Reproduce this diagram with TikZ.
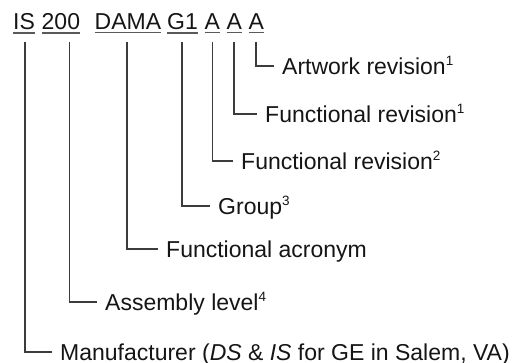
\documentclass[tikz,border=0pt]{standalone}
\usepackage{fontspec}
\setmainfont{Liberation Sans}
\definecolor{linegray}{HTML}{3C3C3C}
\definecolor{ulgray}{HTML}{5A5A5A}
\definecolor{txt}{HTML}{151515}
\newcommand\supnum[1]{\raisebox{0.36em}{\fontsize{13.5}{14}\selectfont #1}}
\tikzset{
  code/.style={anchor=base west, inner sep=0pt, font=\fontsize{23}{26}\selectfont, text=txt},
  lbl/.style={anchor=west, inner xsep=8pt, inner ysep=0pt, text height=16pt, text depth=0pt,
    font=\fontsize{23}{26}\selectfont, text=txt},
  uline/.style={draw=ulgray, line width=1.1pt},
  conn/.style={draw=linegray, line width=1.5pt}
}
\begin{document}
\begin{tikzpicture}[x=1pt,y=-1pt]
\useasboundingbox (0,0) rectangle (524,362);
% code words
\node[code] (wIS)  at (13,29) {IS};
\node[code] (w200) at (41.5,29) {200};
\node[code] (wDAMA) at (94.5,29) {DAMA};
\node[code] (wG1) at (167,29) {G1};
\node[code] (wA1) at (204.5,29) {A};
\node[code] (wA2) at (226.5,29) {A};
\node[code] (wA3) at (248.5,29) {A};
\foreach \w in {wIS,w200,wDAMA,wG1,wA1,wA2,wA3}
  \draw[uline] ([yshift=-3.6pt]\w.south west) -- ([yshift=-3.6pt]\w.south east);
% connector tops
\coordinate (tIS) at (25,42);
\coordinate (t200) at (69.5,42);
\coordinate (tDAMA) at (127,42);
\coordinate (tG1) at (182,42);
\coordinate (tA1) at (212.5,42);
\coordinate (tA2) at (234,42);
\coordinate (tA3) at (256,42);
% labels
\node[lbl] (art) at (274,66) {Artwork revision\supnum{1}};
\node[lbl] (fr1) at (257,114) {Functional revision\supnum{1}};
\node[lbl] (fr2) at (233,161) {Functional revision\supnum{2}};
\node[lbl] (grp) at (210,206) {Group\supnum{3}};
\node[lbl] (acr) at (158,249) {Functional acronym};
\node[lbl] (asm) at (97,302) {Assembly level\supnum{4}};
\node[lbl] (man) at (52,352) {Manufacturer (\textit{DS} \& \textit{IS} for GE in Salem, VA)};
% connectors
\draw[conn] (tA3) |- (art.west);
\draw[conn] (tA2) |- (fr1.west);
\draw[conn] (tA1) |- (fr2.west);
\draw[conn] (tG1) |- (grp.west);
\draw[conn] (tDAMA) |- (acr.west);
\draw[conn] (t200) |- (asm.west);
\draw[conn] (tIS) |- (man.west);
\end{tikzpicture}
\end{document}
